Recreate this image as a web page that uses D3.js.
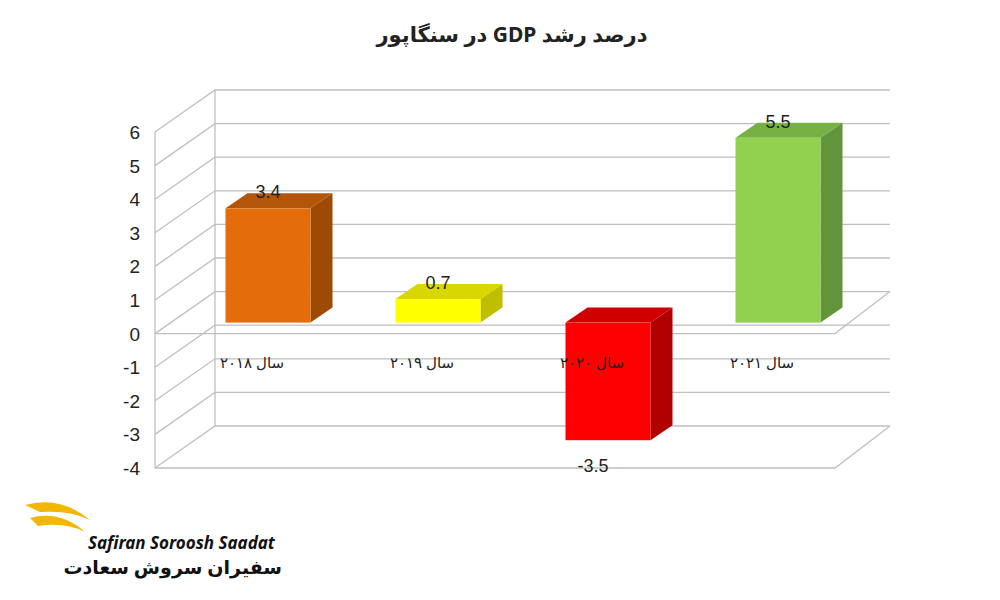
<!DOCTYPE html>
<html><head><meta charset="utf-8">
<script src="https://cdn.jsdelivr.net/npm/d3@7"></script>
<style>body{margin:0;background:#fff}</style>
</head><body>
<svg id="c" width="1000" height="600"></svg>
<script>
// data
let categories = ["سال ۲۰۱۸", "سال ۲۰۱۹", "سال ۲۰۲۰", "سال ۲۰۲۱"];
let values = [3.4, 0.7, -3.5, 5.5];
let tickValues = [-4, -3, -2, -1, 0, 1, 2, 3, 4, 5, 6];
let fronts = ["#E46C0A", "#FFFF00", "#FF0000", "#92D050"];
let sides = ["#9E4A07", "#BFBF00", "#B00000", "#62953A"];
let tops = ["#B4560A", "#D8D800", "#D00000", "#77B043"];

let svg = d3.select("#c");

// front axis scale
let y = d3.scaleLinear().domain([-4, 6]).range([468, 132]);
let backDx = 60, backDy = -42;
let barDx = 16, barDy = -11;
let depthX = 22, depthY = -15;

let x = d3.scaleBand().domain(categories).range([167, 847]).paddingInner(0.5).paddingOuter(0.25);

let grid = svg.append("g").attr("stroke", "#bfbfbf").attr("stroke-width", 1.3).attr("fill", "none");
tickValues.forEach(v => {
  grid.append("path").attr("d", `M155,${y(v)} L${155 + backDx},${y(v) + backDy} L890,${y(v) + backDy}`);
});
grid.append("path").attr("d", `M155,${y(6)} L155,${y(-4)}`);
grid.append("path").attr("d", `M215,${y(6) + backDy} L215,${y(-4) + backDy}`);
// floor at -4
grid.append("path").attr("d", `M155,${y(-4)} L835,${y(-4)} L890,${y(-4) + backDy}`);
// plane at 0
grid.append("path").attr("d", `M155,${y(0)} L835,${y(0)} L890,${y(0) + backDy}`);

// y tick labels
svg.append("g").selectAll("text").data(tickValues).enter().append("text")
  .attr("x", 140).attr("y", d => y(d) + 7).attr("text-anchor", "end")
  .attr("font-family", "Liberation Sans, Arial").attr("font-size", 19).attr("fill", "#222")
  .text(d => d);

// bars
let yb = v => y(v) + barDy;
let bars = svg.append("g");
values.forEach((v, i) => {
  let x0 = x(categories[i]) + barDx, x1 = x0 + x.bandwidth();
  let yt = yb(Math.max(v, 0)), ybot = yb(Math.min(v, 0));
  bars.append("path").attr("fill", sides[i])
    .attr("d", `M${x1},${yt} L${x1 + depthX},${yt + depthY} L${x1 + depthX},${ybot + depthY} L${x1},${ybot}Z`);
  bars.append("path").attr("fill", tops[i])
    .attr("d", `M${x0},${yt} L${x0 + depthX},${yt + depthY} L${x1 + depthX},${yt + depthY} L${x1},${yt}Z`);
  bars.append("rect").attr("fill", fronts[i]).attr("x", x0).attr("y", yt).attr("width", x.bandwidth()).attr("height", ybot - yt);
  bars.append("text").attr("x", (x0 + x1) / 2 + (v >= 0 ? 0 : -15)).attr("y", v >= 0 ? yt - 10 : ybot + 32)
    .attr("text-anchor", "middle").attr("font-family", "Liberation Sans, Arial").attr("font-size", 18).attr("fill", "#222")
    .text(v);
});

// category labels (on top of bars)
svg.append("g").selectAll("text").data(categories).enter().append("text")
  .attr("x", d => x(d) + x.bandwidth() / 2).attr("y", 368).attr("text-anchor", "middle")
  .attr("direction", "rtl")
  .attr("font-family", "Noto Sans, DejaVu Sans").attr("font-size", 15).attr("fill", "#222")
  .text(d => d);

// title
svg.append("text").attr("x", 512).attr("y", 42).attr("text-anchor", "middle").attr("direction", "rtl")
  .attr("font-family", "Noto Sans, DejaVu Sans").attr("font-weight", "bold").attr("font-size", 21).attr("fill", "#222")
  .text("درصد رشد GDP در سنگاپور");

// logo text
svg.append("text").attr("x", 88).attr("y", 549).attr("font-family", "Noto Sans, DejaVu Sans").attr("font-style", "italic")
  .attr("font-weight", "bold").attr("font-size", 17).attr("fill", "#111").text("Safiran Soroosh Saadat");
svg.append("text").attr("x", 282).attr("y", 574).attr("text-anchor", "start").attr("direction", "rtl")
  .attr("font-family", "Noto Sans, DejaVu Sans").attr("font-weight", "bold").attr("font-size", 19).attr("fill", "#111").text("سفیران سروش سعادت");
svg.append("path").attr("d", "M25,505 Q60,495 90,520 Q70,510 40,512Z M30,518 Q60,510 85,532 Q65,522 38,526Z")
  .attr("fill", "#F2B705");
</script>
</body></html>
